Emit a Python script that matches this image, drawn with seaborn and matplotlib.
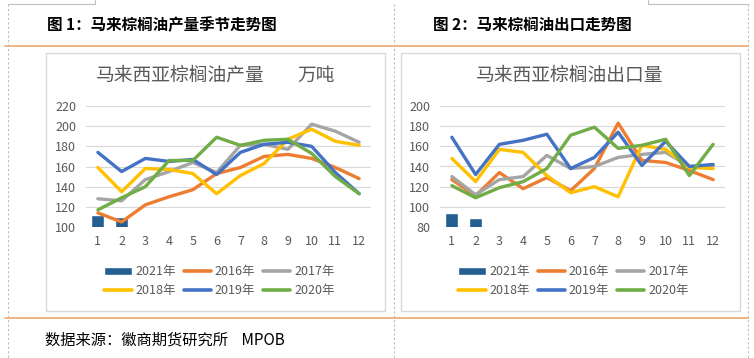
import pandas as pd
import matplotlib.pyplot as plt
import seaborn as sns
from matplotlib.patches import Rectangle, Patch
from matplotlib.lines import Line2D

months = list(range(1, 13))
years = ['2016年', '2017年', '2018年', '2019年', '2020年']
bar_year = '2021年'
bar_months = [1, 2]

# 产量 (万吨)
prod_2021 = [112, 110]
prod_2016 = [114, 105, 122, 130, 137, 153, 159, 170, 172, 168, 159, 148]
prod_2017 = [128, 126, 147, 155, 164, 154, 181, 182, 177, 202, 195, 184]
prod_2018 = [159, 135, 158, 157, 153, 133, 151, 163, 187, 197, 185, 181]
prod_2019 = [174, 155, 168, 165, 167, 152, 174, 182, 184, 180, 154, 133]
prod_2020 = [117, 129, 140, 166, 166, 189, 181, 186, 187, 173, 150, 133]

# 出口 (万吨)
exp_2021 = [94, 89]
exp_2016 = [127, 111, 134, 118, 129, 116, 138, 183, 146, 144, 136, 127]
exp_2017 = [130, 112, 127, 130, 151, 138, 140, 149, 152, 154, 140, 141]
exp_2018 = [148, 125, 157, 154, 131, 114, 120, 110, 161, 157, 139, 138]
exp_2019 = [169, 132, 162, 166, 172, 138, 149, 174, 141, 165, 140, 142]
exp_2020 = [121, 109, 119, 125, 138, 171, 179, 158, 161, 167, 131, 162]

colors = {'2016年': '#ED7D31', '2017年': '#A5A5A5', '2018年': '#FFC000',
          '2019年': '#4472C4', '2020年': '#70AD47'}
bar_color = '#255E91'
txt_gray = '#595959'

sns.set_style('white')
plt.rcParams['font.family'] = ['Noto Sans CJK SC', 'DejaVu Sans']

W, H = 754, 358
fig = plt.figure(figsize=(W / 100, H / 100), dpi=100)


def fx(px):
    return px / W


def fy(py):
    return 1 - py / H


def panel(left_px, right_px, series, bars, ylim, yticks):
    ax = fig.add_axes([fx(left_px), fy(227), fx(right_px - left_px), 121 / H])
    rows = []
    for yr, vals in zip(years, series):
        for m, v in zip(months, vals):
            rows.append({'月': m, '值': v, '年份': yr})
    df = pd.DataFrame(rows)
    sns.barplot(x=bar_months, y=bars, native_scale=True, width=0.55,
                color=bar_color, saturation=1, ax=ax)
    sns.lineplot(data=df, x='月', y='值', hue='年份', hue_order=years,
                 palette=colors, lw=2.4, legend=False, ax=ax,
                 solid_capstyle='round', solid_joinstyle='round')
    ax.set_xlim(0.5, 12.5)
    ax.set_ylim(*ylim)
    ax.set_yticks(yticks)
    ax.set_xticks(months)
    ax.set_xticklabels([str(m) for m in months])
    ax.set_xlabel('')
    ax.set_ylabel('')
    ax.set_axisbelow(True)
    ax.yaxis.grid(True, color='#D9D9D9', lw=0.8)
    ax.xaxis.grid(False)
    for s in ax.spines.values():
        s.set_visible(False)
    ax.tick_params(length=0, labelsize=9, colors=txt_gray)
    ax.tick_params(axis='y', pad=7)
    ax.tick_params(axis='x', pad=6)
    ax.patch.set_alpha(0)

    handles = [Patch(facecolor=bar_color, label=bar_year)]
    handles += [Line2D([], [], color=colors[y], lw=2.6, label=y) for y in years]
    order = [0, 3, 1, 4, 2, 5]
    ax.legend(handles=[handles[i] for i in order], ncol=3, loc='center',
              bbox_to_anchor=(fx((left_px + right_px) / 2 - 9), fy(281)),
              bbox_transform=fig.transFigure, frameon=False, fontsize=9,
              labelcolor=txt_gray, handlelength=2.2, handleheight=0.55,
              handletextpad=0.3, columnspacing=0.6, labelspacing=0.45)
    return ax


panel(86, 371, [prod_2016, prod_2017, prod_2018, prod_2019, prod_2020],
      prod_2021, (100, 220), range(100, 221, 20))
panel(440, 725, [exp_2016, exp_2017, exp_2018, exp_2019, exp_2020],
      exp_2021, (80, 200), range(80, 201, 20))

# chart titles
fig.text(fx(180), fy(75), '马来西亚棕榈油产量', ha='center', va='center',
         fontsize=13.5, color=txt_gray)
fig.text(fx(316), fy(75), '万吨', ha='center', va='center',
         fontsize=13.5, color=txt_gray)
fig.text(fx(570), fy(75), '马来西亚棕榈油出口量', ha='center', va='center',
         fontsize=13.5, color=txt_gray)

# document frame
for x0, x1 in [(46, 385), (401, 740)]:
    fig.add_artist(Rectangle((fx(x0), fy(311)), fx(x1 - x0), (311 - 53) / H,
                             transform=fig.transFigure, fill=False,
                             ec='#D9D9D9', lw=1))
for yy in (46, 318):
    fig.add_artist(Line2D([fx(5), fx(748)], [fy(yy), fy(yy)],
                          transform=fig.transFigure, color='#EDA56B', lw=1.2))
for xx in (8, 394, 748):
    fig.add_artist(Line2D([fx(xx), fx(xx)], [fy(4), fy(358)],
                          transform=fig.transFigure, color='#BFBFBF', lw=0.8,
                          ls=(0, (2, 2))))
for x0, x1 in [(8, 95), (648, 748)]:
    fig.add_artist(Line2D([fx(x0), fx(x1)], [fy(4), fy(4)],
                          transform=fig.transFigure, color='#BFBFBF', lw=0.8))
for xx in (95, 648):
    fig.add_artist(Line2D([fx(xx), fx(xx)], [fy(0), fy(4)],
                          transform=fig.transFigure, color='#BFBFBF', lw=0.8))

# header and source
fig.text(fx(47), fy(25), '图 1：马来棕榈油产量季节走势图', ha='left', va='center',
         fontsize=11.2, fontweight='bold', color='black')
fig.text(fx(433), fy(25), '图 2：马来棕榈油出口走势图', ha='left', va='center',
         fontsize=11.2, fontweight='bold', color='black')
fig.text(fx(45), fy(340), '数据来源：徽商期货研究所    MPOB', ha='left', va='center',
         fontsize=11, color='black')

fig.savefig('out.png', dpi=100)
